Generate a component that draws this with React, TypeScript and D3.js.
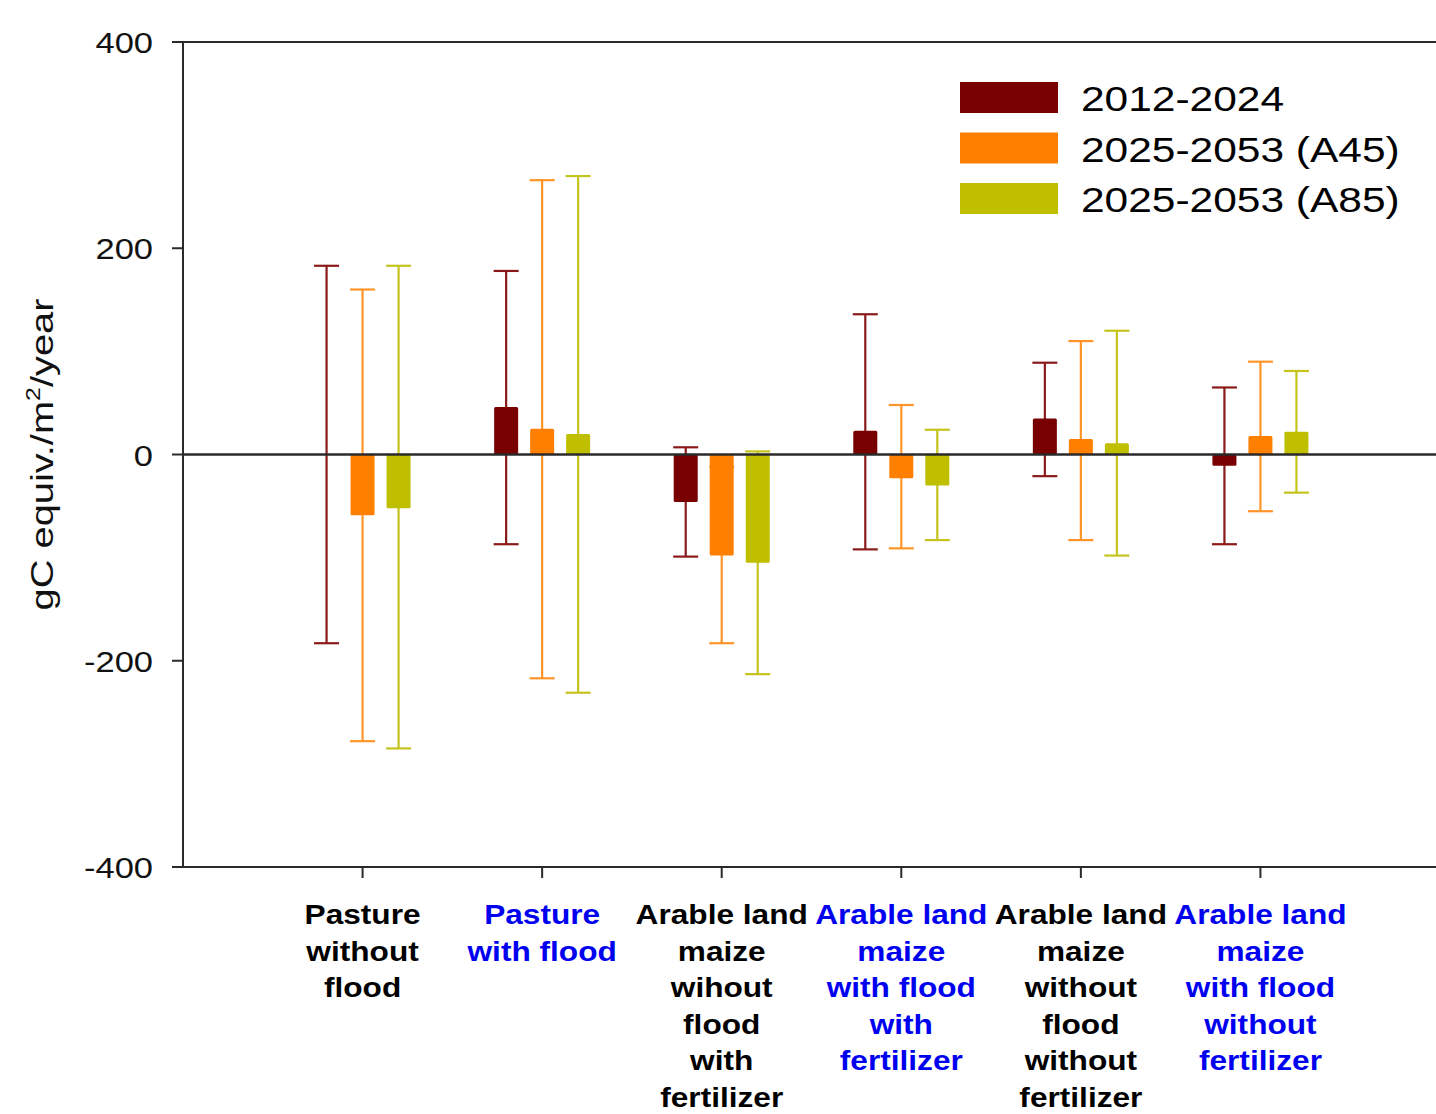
import React from "react";
import * as d3 from "d3";

const categories = [
  ["Pasture", "without", "flood"],
  ["Pasture", "with flood"],
  ["Arable land", "maize", "wihout", "flood", "with", "fertilizer"],
  ["Arable land", "maize", "with flood", "with", "fertilizer"],
  ["Arable land", "maize", "without", "flood", "without", "fertilizer"],
  ["Arable land", "maize", "with flood", "without", "fertilizer"],
];
const flooded = [false, true, false, true, false, true];

const seriesNames = ["2012-2024", "2025-2053 (A45)", "2025-2053 (A85)"];
const seriesColors = ["#780000", "#ff8000", "#bfbf00"];
const whiskerColors = ["#8a1a1a", "#ff9528", "#c4c41c"];

const mean2012 = [0, 46, -46, 23, 35, -11];
const meanA45 = [-59, 25, -98, -23, 15, 18];
const meanA85 = [-52, 20, -105, -30, 11, 22];

const upper2012 = [183, 178, 7, 136, 89, 65];
const lower2012 = [-183, -87, -99, -92, -21, -87];
const upperA45 = [160, 266, -12, 48, 110, 90];
const lowerA45 = [-278, -217, -183, -91, -83, -55];
const upperA85 = [183, 270, 3, 24, 120, 81];
const lowerA85 = [-285, -231, -213, -83, -98, -37];

const yTicks = [-400, -200, 0, 200, 400];

const means = [mean2012, meanA45, meanA85];
const uppers = [upper2012, upperA45, upperA85];
const lowers = [lower2012, lowerA45, lowerA85];

const W = 1436;
const H = 1114;
const FONT = "'Liberation Sans', Arial, sans-serif";

export default function App() {
  const y = d3.scaleLinear().domain([-400, 400]).range([867, 42]);
  const x = d3.scaleLinear().domain([0, 7]).range([183, 1440]);
  const offset = d3.scaleBand<number>().domain([0, 1, 2]).range([-54, 54]);
  const barW = 24;
  const capW = 25;

  return (
    <svg width={W} height={H} style={{ position: "absolute", left: 0, top: 0, background: "#fff" }} fontFamily={FONT}>
      {/* error bars, behind the bars */}
      {means.map((vals, s) =>
        vals.map((v, i) => {
          const cx = x(i + 1) + offset(s)! + offset.bandwidth() / 2;
          return (
            <g key={`e${s}-${i}`} stroke={whiskerColors[s]} strokeWidth={2.2}>
              <line x1={cx} x2={cx} y1={y(uppers[s][i])} y2={y(lowers[s][i])} />
              <line x1={cx - capW / 2} x2={cx + capW / 2} y1={y(uppers[s][i])} y2={y(uppers[s][i])} />
              <line x1={cx - capW / 2} x2={cx + capW / 2} y1={y(lowers[s][i])} y2={y(lowers[s][i])} />
            </g>
          );
        })
      )}
      {/* bars */}
      {means.map((vals, s) =>
        vals.map((v, i) => {
          const cx = x(i + 1) + offset(s)! + offset.bandwidth() / 2;
          const y0 = y(Math.max(0, v));
          const y1 = y(Math.min(0, v));
          if (y1 - y0 < 0.5) return null;
          return <rect key={`b${s}-${i}`} x={cx - barW / 2} y={y0} width={barW} height={y1 - y0} rx={1.5} fill={seriesColors[s]} />;
        })
      )}
      {/* frame lines */}
      <line x1={183} x2={W} y1={y(400)} y2={y(400)} stroke="#2a2a2a" strokeWidth={2} />
      <line x1={183} x2={W} y1={y(-400)} y2={y(-400)} stroke="#2a2a2a" strokeWidth={2} />
      <line x1={183} x2={W} y1={y(0)} y2={y(0)} stroke="#2a2a2a" strokeWidth={2.4} />
      <line x1={183} x2={183} y1={y(400)} y2={y(-400)} stroke="#2a2a2a" strokeWidth={2} />

      {/* y axis */}
      {yTicks.map((t) => (
        <g key={`yt${t}`}>
          <line x1={172} x2={183} y1={y(t)} y2={y(t)} stroke="#2a2a2a" strokeWidth={2} />
          <text transform={`translate(153,${y(t) + 11}) scale(1.15,1)`} textAnchor="end" fontSize={30} fill="#111">
            {t}
          </text>
        </g>
      ))}
      <text transform={`translate(53,${y(0)}) rotate(-90)`} textAnchor="middle" fontSize={32} fill="#111" textLength={312} lengthAdjust="spacingAndGlyphs">
        gC equiv./m<tspan fontSize={20} dy={-13}>2</tspan>
        <tspan dy={13}>/year</tspan>
      </text>

      {/* x axis */}
      {categories.map((lines, i) => (
        <g key={`xc${i}`}>
          <line x1={x(i + 1)} x2={x(i + 1)} y1={867} y2={878} stroke="#2a2a2a" strokeWidth={2} />
          {lines.map((ln, j) => (
            <text
              key={j}
              transform={`translate(${x(i + 1)},${924 + j * 36.6}) scale(1.13,1)`}
              textAnchor="middle"
              fontSize={28}
              fontWeight="bold"
              fill={flooded[i] ? "#0000f0" : "#000"}
            >
              {ln}
            </text>
          ))}
        </g>
      ))}

      {/* legend */}
      {seriesNames.map((name, s) => (
        <g key={`lg${s}`} transform={`translate(960,${82 + s * 50.5})`}>
          <rect x={0} y={0} width={98} height={31} fill={seriesColors[s]} />
          <text transform="translate(121,29) scale(1.18,1)" fontSize={36} fill="#000">
            {name}
          </text>
        </g>
      ))}
    </svg>
  );
}
